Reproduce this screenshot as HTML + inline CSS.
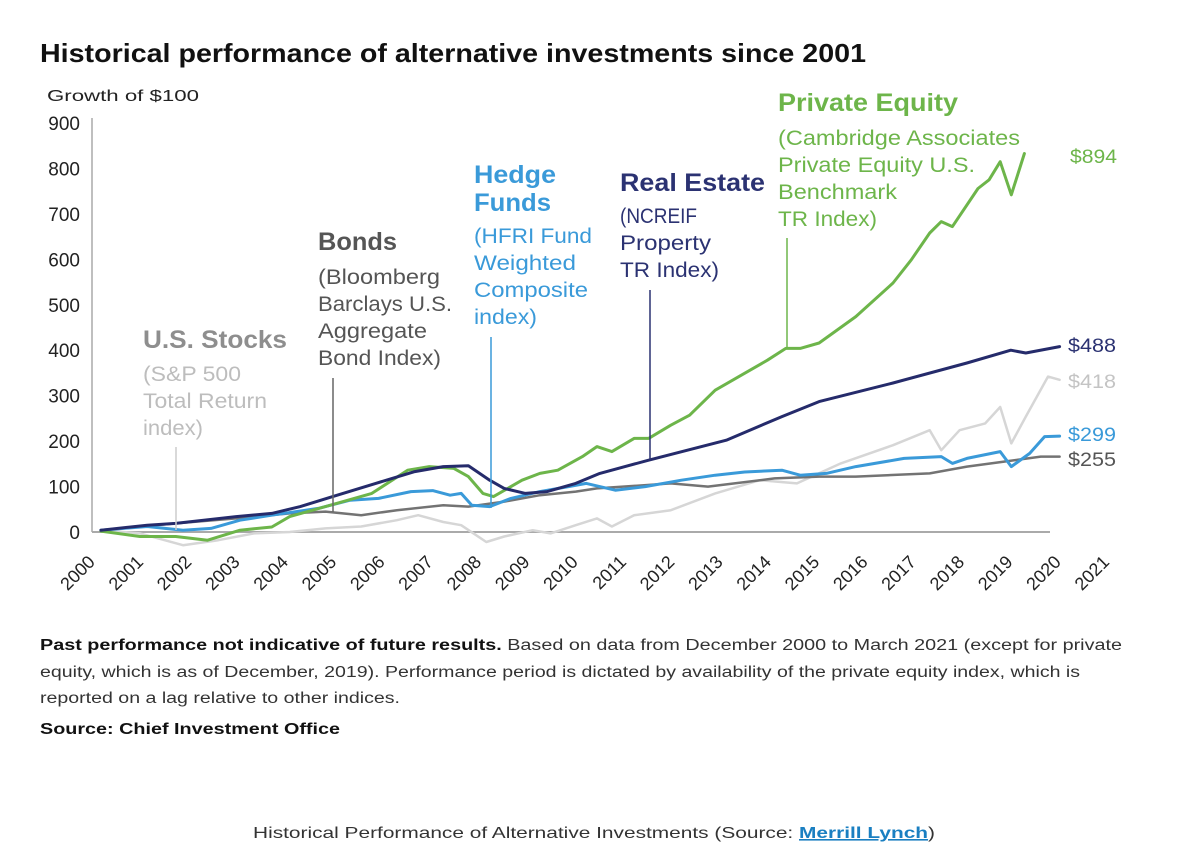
<!DOCTYPE html>
<html><head><meta charset="utf-8"><style>
html,body{margin:0;padding:0;background:#fff;}
svg{display:block;font-family:"Liberation Sans",sans-serif;}
</style></head><body>
<svg id="chart" width="1184" height="850" viewBox="0 0 1184 850">
<text x="40" y="62" font-size="26" font-weight="bold" fill="#111" textLength="826" lengthAdjust="spacingAndGlyphs">Historical performance of alternative investments since 2001</text>
<text x="47" y="101" font-size="16" fill="#222" textLength="152" lengthAdjust="spacingAndGlyphs">Growth of $100</text>
<g id="axes"></g>
<g id="series"></g>
<g lengthAdjust="spacingAndGlyphs">
 <text x="143" y="348" font-size="25" font-weight="bold" fill="#8e8e8e" textLength="144" lengthAdjust="spacingAndGlyphs">U.S. Stocks</text>
 <g font-size="21" fill="#bdbdbd">
  <text x="143" y="381" textLength="98" lengthAdjust="spacingAndGlyphs">(S&amp;P 500</text>
  <text x="143" y="408" textLength="124" lengthAdjust="spacingAndGlyphs">Total Return</text>
  <text x="143" y="435" textLength="60" lengthAdjust="spacingAndGlyphs">index)</text>
 </g>
 <line x1="176" y1="447" x2="176" y2="530" stroke="#ccc" stroke-width="1.5"/>
 <text x="318" y="250" font-size="25" font-weight="bold" fill="#555" textLength="79" lengthAdjust="spacingAndGlyphs">Bonds</text>
 <g font-size="21" fill="#555">
  <text x="318" y="284" textLength="122" lengthAdjust="spacingAndGlyphs">(Bloomberg</text>
  <text x="318" y="311" textLength="134" lengthAdjust="spacingAndGlyphs">Barclays U.S.</text>
  <text x="318" y="338" textLength="109" lengthAdjust="spacingAndGlyphs">Aggregate</text>
  <text x="318" y="365" textLength="123" lengthAdjust="spacingAndGlyphs">Bond Index)</text>
 </g>
 <line x1="333" y1="378" x2="333" y2="512" stroke="#666" stroke-width="1.5"/>
 <g font-size="25" font-weight="bold" fill="#3a9ad9">
  <text x="474" y="183" textLength="82" lengthAdjust="spacingAndGlyphs">Hedge</text>
  <text x="474" y="211" textLength="77" lengthAdjust="spacingAndGlyphs">Funds</text>
 </g>
 <g font-size="21" fill="#3a9ad9">
  <text x="474" y="243" textLength="118" lengthAdjust="spacingAndGlyphs">(HFRI Fund</text>
  <text x="474" y="270" textLength="102" lengthAdjust="spacingAndGlyphs">Weighted</text>
  <text x="474" y="297" textLength="114" lengthAdjust="spacingAndGlyphs">Composite</text>
  <text x="474" y="324" textLength="63" lengthAdjust="spacingAndGlyphs">index)</text>
 </g>
 <line x1="491" y1="337" x2="491" y2="508" stroke="#3a9ad9" stroke-width="1.5"/>
 <text x="620" y="191" font-size="25" font-weight="bold" fill="#2b3272" textLength="145" lengthAdjust="spacingAndGlyphs">Real Estate</text>
 <g font-size="21" fill="#2b3272">
  <text x="620" y="223" textLength="77" lengthAdjust="spacingAndGlyphs">(NCREIF</text>
  <text x="620" y="250" textLength="91" lengthAdjust="spacingAndGlyphs">Property</text>
  <text x="620" y="277" textLength="99" lengthAdjust="spacingAndGlyphs">TR Index)</text>
 </g>
 <line x1="650" y1="290" x2="650" y2="460" stroke="#2b3272" stroke-width="1.5"/>
 <text x="778" y="111" font-size="25" font-weight="bold" fill="#6db54a" textLength="180" lengthAdjust="spacingAndGlyphs">Private Equity</text>
 <g font-size="21" fill="#6db54a">
  <text x="778" y="145" textLength="242" lengthAdjust="spacingAndGlyphs">(Cambridge Associates</text>
  <text x="778" y="172" textLength="197" lengthAdjust="spacingAndGlyphs">Private Equity U.S.</text>
  <text x="778" y="199" textLength="119" lengthAdjust="spacingAndGlyphs">Benchmark</text>
  <text x="778" y="226" textLength="99" lengthAdjust="spacingAndGlyphs">TR Index)</text>
 </g>
 <line x1="787" y1="238" x2="787" y2="348" stroke="#6db54a" stroke-width="1.5"/>
 <g font-size="19">
 <text x="1070" y="163" fill="#6db54a" textLength="47" lengthAdjust="spacingAndGlyphs">$894</text>
 <text x="1068" y="352" fill="#2b3272" textLength="48" lengthAdjust="spacingAndGlyphs">$488</text>
 <text x="1068" y="388" fill="#c4c4c4" textLength="48" lengthAdjust="spacingAndGlyphs">$418</text>
 <text x="1068" y="441" fill="#3a9ad9" textLength="48" lengthAdjust="spacingAndGlyphs">$299</text>
 <text x="1068" y="466" fill="#555" textLength="48" lengthAdjust="spacingAndGlyphs">$255</text>
 </g>
</g>
<g font-size="15.5" fill="#333">
 <text x="40" y="650" textLength="1082" lengthAdjust="spacingAndGlyphs"><tspan font-weight="bold" fill="#111">Past performance not indicative of future results.</tspan> Based on data from December 2000 to March 2021 (except for private</text>
 <text x="40" y="677" textLength="1040" lengthAdjust="spacingAndGlyphs">equity, which is as of December, 2019). Performance period is dictated by availability of the private equity index, which is</text>
 <text x="40" y="703" textLength="360" lengthAdjust="spacingAndGlyphs">reported on a lag relative to other indices.</text>
 <text x="40" y="734" font-weight="bold" fill="#111" textLength="300" lengthAdjust="spacingAndGlyphs">Source: Chief Investment Office</text>
</g>
<text x="253" y="838" font-size="16" fill="#333" textLength="682" lengthAdjust="spacingAndGlyphs">Historical Performance of Alternative Investments (Source: <tspan fill="#1a7fc1" font-weight="bold" text-decoration="underline">Merrill Lynch</tspan>)</text>
</svg>
<script>
const yTicks=[0,100,200,300,400,500,600,700,800,900];
const years=[2000,2001,2002,2003,2004,2005,2006,2007,2008,2009,2010,2011,2012,2013,2014,2015,2016,2017,2018,2019,2020,2021];
const stocksT=[2000.08,2000.89,2001.78,2002.51,2003.25,2003.99,2004.73,2005.47,2006.21,2006.65,2007.17,2007.54,2008.06,2008.43,2009.02,2009.39,2009.91,2010.35,2010.66,2011.12,2011.88,2012.8,2013.72,2014.49,2015.4,2016.48,2017.24,2017.48,2017.86,2018.39,2018.7,2018.93,2019.23,2019.69,2019.93];
const stocksV=[4,-3,-29,-18,-3,0,8,12,26,37,22,15,-22,-10,4,-3,15,30,12,37,48,85,114,107,151,191,224,180,224,239,275,195,254,342,335];
const bondsT=[2000.08,2001.63,2002.88,2003.99,2004.73,2005.47,2006.21,2007.17,2007.69,2008.43,2009.17,2009.91,2010.35,2011.88,2012.65,2014.03,2014.95,2015.71,2017.24,2018.01,2018.78,2019.54,2019.93];
const bondsV=[4,19,30,41,45,37,48,59,56,67,81,89,96,107,100,118,122,122,129,144,155,166,166];
const hedgeT=[2000.08,2001.04,2001.78,2002.36,2002.96,2003.62,2004.58,2005.24,2005.83,2006.5,2006.95,2007.31,2007.54,2007.76,2008.13,2008.57,2009.17,2009.76,2010.13,2010.73,2011.35,2012.1,2012.8,2013.41,2014.18,2014.56,2015.1,2015.71,2016.71,2017.48,2017.71,2018.01,2018.7,2018.93,2019.31,2019.62,2019.93];
const hedgeV=[4,12,4,8,26,37,52,70,74,89,91,81,85,59,56,74,89,100,107,92,100,114,125,132,136,125,129,144,162,166,151,162,177,144,173,210,211];
const reT=[2000.08,2001.04,2001.63,2002.88,2003.62,2004.21,2004.88,2005.77,2006.58,2007.17,2007.69,2008.13,2008.43,2008.87,2009.32,2009.91,2010.41,2011.42,2013.03,2014.18,2014.95,2016.48,2018.01,2018.92,2019.23,2019.93];
const reV=[4,15,19,34,41,56,78,107,133,144,146,114,96,85,89,107,129,158,202,254,287,328,372,400,394,408];
const peT=[2000.08,2000.89,2001.63,2002.29,2002.96,2003.62,2003.99,2004.73,2005.69,2006.43,2006.88,2007.39,2007.69,2007.99,2008.21,2008.8,2009.17,2009.54,2010.05,2010.35,2010.66,2011.12,2011.42,2011.88,2012.27,2012.8,2013.34,2013.88,2014.26,2014.56,2014.95,2015.71,2016.48,2016.86,2017.24,2017.48,2017.71,2018.24,2018.47,2018.7,2018.93,2019.2];
const peV=[2,-10,-10,-18,4,11,34,56,85,136,144,140,122,85,78,114,129,136,166,188,177,206,206,235,257,312,345,378,404,404,416,474,548,599,658,683,672,756,775,815,742,833];

const NS="http://www.w3.org/2000/svg";
const X=t=>97+48.3*(t-2000);
const Y=v=>532-v*0.4544;
const axes=document.getElementById('axes');
const series=document.getElementById('series');
function mk(tag,parent,attrs){const e=document.createElementNS(NS,tag);for(const k in attrs)e.setAttribute(k,attrs[k]);parent.appendChild(e);return e;}
const yAxis=mk('line',axes,{x1:92,y1:Y(900)-5,x2:92,y2:Y(0),stroke:'#aaa','stroke-width':1.5});


const xAxis=mk('line',axes,{x1:92,y1:Y(0),x2:1050,y2:Y(0),stroke:'#aaa','stroke-width':2});


yTicks.forEach(v=>{
 const t=mk('text',axes,{x:80,y:Y(v)+7,'text-anchor':'end','font-size':19,fill:'#222'});
 t.textContent=v;
 
 
});
years.forEach(yr=>{
 const x=X(yr)-1;
 const t=mk('text',axes,{x:x,y:563,'text-anchor':'end','font-size':18,fill:'#222',transform:`rotate(-45 ${x} 563)`});
 t.textContent=yr;
 
 
});
function line(T,V,color,w,name){
 const d=T.map((t,i)=>(i?'L':'M')+X(t).toFixed(1)+' '+Y(V[i]).toFixed(1)).join(' ');
 const p=mk('path',series,{d:d,fill:'none',stroke:color,'stroke-width':w,'stroke-linejoin':'round','stroke-linecap':'round'});
 
 
}
line(stocksT,stocksV,'#d6d6d6',2.5,'stocks-line');
line(bondsT,bondsV,'#737373',2.5,'bonds-line');
line(hedgeT,hedgeV,'#3a9ad9',3,'hedge-funds-line');
line(peT,peV,'#6db54a',3,'private-equity-line');
line(reT,reV,'#252b6b',3,'real-estate-line');
</script>
</body></html>
